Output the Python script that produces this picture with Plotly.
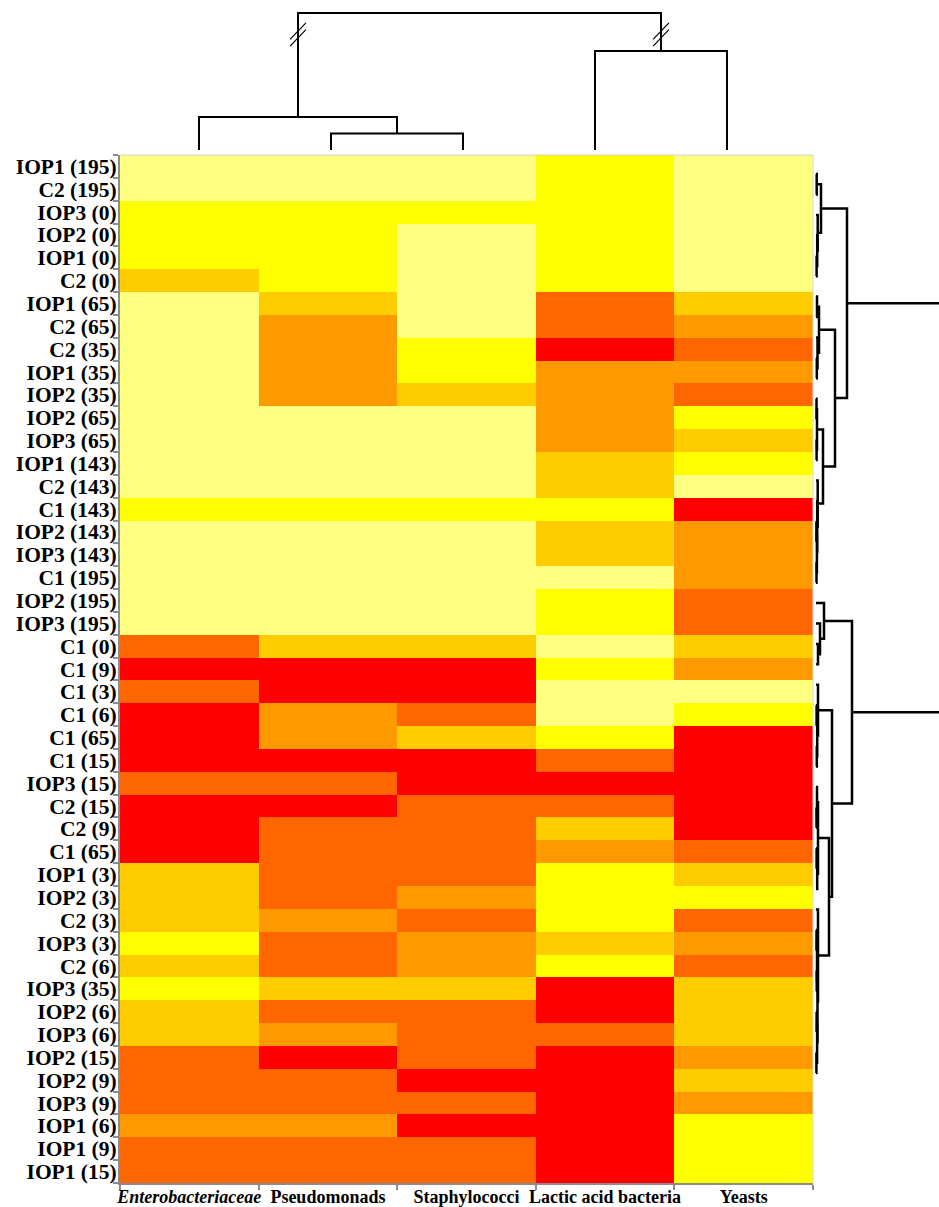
import plotly.graph_objects as go

W, H = 939, 1207

# Sample labels, top to bottom (clustered order)
row_labels = [
    "IOP1 (195)", "C2 (195)", "IOP3 (0)", "IOP2 (0)", "IOP1 (0)", "C2 (0)",
    "IOP1 (65)", "C2 (65)", "C2 (35)", "IOP1 (35)", "IOP2 (35)", "IOP2 (65)",
    "IOP3 (65)", "IOP1 (143)", "C2 (143)", "C1 (143)", "IOP2 (143)", "IOP3 (143)",
    "C1 (195)", "IOP2 (195)", "IOP3 (195)", "C1 (0)", "C1 (9)", "C1 (3)",
    "C1 (6)", "C1 (65)", "C1 (15)", "IOP3 (15)", "C2 (15)", "C2 (9)",
    "C1 (65)", "IOP1 (3)", "IOP2 (3)", "C2 (3)", "IOP3 (3)", "C2 (6)",
    "IOP3 (35)", "IOP2 (6)", "IOP3 (6)", "IOP2 (15)", "IOP2 (9)", "IOP3 (9)",
    "IOP1 (6)", "IOP1 (9)", "IOP1 (15)",
]

# Microbial groups (columns, clustered order)
group_labels = ["<i>Enterobacteriaceae</i>", "Pseudomonads", "Staphylococci",
                "Lactic acid bacteria", "Yeasts"]

# Count class per sample (0 = lowest ... 5 = highest)
enterobacteriaceae = [0, 0, 1, 1, 1, 2, 0, 0, 0, 0, 0, 0, 0, 0, 0, 1, 0, 0, 0, 0, 0,
                      4, 5, 4, 5, 5, 5, 4, 5, 5, 5, 2, 2, 2, 1, 2, 1, 2, 2, 4, 4, 4, 3, 4, 4]
pseudomonads = [0, 0, 1, 1, 1, 1, 2, 3, 3, 3, 3, 0, 0, 0, 0, 1, 0, 0, 0, 0, 0,
                2, 5, 5, 3, 3, 5, 4, 5, 4, 4, 4, 4, 3, 4, 4, 2, 4, 3, 5, 4, 4, 3, 4, 4]
staphylococci = [0, 0, 1, 0, 0, 0, 0, 0, 1, 1, 2, 0, 0, 0, 0, 1, 0, 0, 0, 0, 0,
                 2, 5, 5, 4, 2, 5, 5, 4, 4, 4, 4, 3, 4, 3, 3, 2, 4, 4, 4, 5, 4, 5, 4, 4]
lactic_acid_bacteria = [1, 1, 1, 1, 1, 1, 4, 4, 5, 3, 3, 3, 3, 2, 2, 1, 2, 2, 0, 1, 1,
                        0, 1, 0, 0, 1, 4, 5, 4, 2, 3, 1, 1, 1, 2, 1, 5, 5, 4, 5, 5, 5, 5, 5, 5]
yeasts = [0, 0, 0, 0, 0, 0, 2, 3, 4, 3, 4, 1, 2, 1, 0, 5, 3, 3, 3, 4, 4,
          2, 3, 0, 1, 5, 5, 5, 5, 5, 4, 2, 1, 4, 3, 4, 2, 2, 2, 3, 2, 3, 1, 1, 1]

class_colors = ["#FFFF80", "#FFFF00", "#FFCC00", "#FF9900", "#FF6600", "#FF0000"]


def merge(h, a, b):
    return (h, a, b)


# Column dendrogram (leaves are column numbers)
col_tree = merge(8.3, merge(2.0, 1, merge(1.0, 2, 3)), merge(6.0, 4, 5))

# Row dendrogram (leaves are row numbers), heights in pixel-like units
row_tree_top = merge(
    31,
    merge(5, merge(0.7, 1, 2), merge(1.7, 3, merge(1.2, 4, merge(0.6, 5, 6)))),
    merge(
        19,
        merge(3, merge(1, 7, 8), merge(1.5, 9, merge(0.8, 10, 11))),
        merge(
            7,
            merge(1, merge(0.5, 12, 13), merge(0.6, 14, 15)),
            merge(1.7, 16, merge(1.2, 17, merge(0.9, merge(0.4, 18, 19), merge(0.5, 20, 21)))),
        ),
    ),
)
row_tree_bottom = merge(
    36,
    merge(8, 22, merge(4, 23, merge(2, 24, 25))),
    merge(
        16,
        merge(2, 26, merge(1.2, merge(0.6, 27, 28), merge(0.8, 29, 30))),
        merge(
            13,
            merge(2, merge(1, 31, merge(0.5, 32, 33)), merge(1.2, merge(0.6, 34, 35), 36)),
            merge(2, 37, merge(1.5, merge(1, merge(0.5, 38, 39), merge(0.7, 40, 41)),
                               merge(1.1, merge(0.6, 42, 43), merge(0.4, 44, 45)))),
        ),
    ),
)
row_tree = merge(140, row_tree_top, row_tree_bottom)


def tree_segments(node, segs):
    """Return (position, height) of node and collect its U-shaped link."""
    if isinstance(node, int):
        return float(node), 0.0
    h, a, b = node
    pa, ha = tree_segments(a, segs)
    pb, hb = tree_segments(b, segs)
    segs.append([(pa, ha), (pa, h), (pb, h), (pb, hb)])
    return (pa + pb) / 2.0, h


def to_xy(segs, swap=False):
    xs, ys = [], []
    for seg in segs:
        for p, h in seg:
            if swap:
                xs.append(h)
                ys.append(p)
            else:
                xs.append(p)
                ys.append(h)
        xs.append(None)
        ys.append(None)
    return xs, ys


fig = go.Figure()

# Heatmap
z = [list(r) for r in zip(enterobacteriaceae, pseudomonads, staphylococci,
                          lactic_acid_bacteria, yeasts)]
n_cls = len(class_colors)
cscale = []
for i, c in enumerate(class_colors):
    cscale.append([i / n_cls, c])
    cscale.append([(i + 1) / n_cls, c])

rows_idx = list(range(1, len(row_labels) + 1))
cols_idx = list(range(1, len(group_labels) + 1))

fig.add_trace(go.Heatmap(
    z=z, x=cols_idx, y=rows_idx, colorscale=cscale,
    zmin=-0.5, zmax=n_cls - 0.5, showscale=False, xgap=0, ygap=0,
    hoverinfo="skip",
    xaxis="x", yaxis="y",
))

# Column dendrogram
segs = []
tree_segments(col_tree, segs)
cx, cy = to_xy(segs)
fig.add_trace(go.Scatter(x=cx, y=cy, mode="lines", line=dict(color="black", width=2),
                         xaxis="x2", yaxis="y2", hoverinfo="skip", showlegend=False))

# Axis-break marks on the two top branches
root_h, left_child, right_child = col_tree
lp, _ = tree_segments(left_child, [])
rp, _ = tree_segments(right_child, [])
bx, by = [], []
for p in (lp, rp):
    for off in (-0.2, 0.2):
        yc = 7.0 + off
        bx += [p - 0.06, p + 0.06, None]
        by += [yc - 0.5, yc + 0.5, None]
fig.add_trace(go.Scatter(x=bx, y=by, mode="lines", line=dict(color="black", width=1.2),
                         xaxis="x2", yaxis="y2", hoverinfo="skip", showlegend=False))

# Row dendrogram
segs = []
tree_segments(row_tree, segs)
rx, ry = to_xy(segs, swap=True)
fig.add_trace(go.Scatter(x=rx, y=ry, mode="lines", line=dict(color="black", width=2.5),
                         xaxis="x3", yaxis="y3", hoverinfo="skip", showlegend=False))


def px_x(p):
    return p / W


def px_y(p):
    return 1 - p / H


font_lbl = dict(family="Liberation Serif", size=21.5, color="black", weight="bold")
font_grp = dict(family="Liberation Serif", size=18, color="black", weight="bold")
axis_grey = "#8c8c8c"

fig.update_layout(
    width=W, height=H,
    margin=dict(l=0, r=0, t=0, b=0, autoexpand=False),
    paper_bgcolor="white", plot_bgcolor="white",
    showlegend=False,
    xaxis=dict(
        domain=[px_x(120), px_x(813)], range=[0.5, len(group_labels) + 0.5],
        tickmode="array", tickvals=cols_idx, ticktext=group_labels,
        ticks="", ticklabelstandoff=-4,
        minor=dict(tickmode="array", tickvals=[c + 0.5 for c in range(0, len(group_labels) + 1)],
                   ticks="outside", ticklen=5, tickcolor=axis_grey, tickwidth=1.5),
        showline=True, linecolor=axis_grey, linewidth=2, automargin=False,
        showgrid=False, zeroline=False, tickfont=font_grp, anchor="y",
    ),
    yaxis=dict(
        domain=[px_y(1183), px_y(155)], range=[len(row_labels) + 0.5, 0.5],
        tickmode="array", tickvals=rows_idx, ticktext=row_labels,
        ticks="", ticklabelstandoff=-3,
        minor=dict(tickmode="array", tickvals=[r + 0.5 for r in range(0, len(row_labels) + 1)],
                   ticks="outside", ticklen=5, tickcolor=axis_grey, tickwidth=1.5),
        showline=True, linecolor=axis_grey, linewidth=2, automargin=False,
        showgrid=False, zeroline=False, tickfont=font_lbl, anchor="x",
    ),
    xaxis2=dict(domain=[px_x(185.8), px_x(740.2)], range=[0.9, 5.1], visible=False,
                anchor="y2", automargin=False),
    yaxis2=dict(domain=[px_y(150), px_y(9.75)], range=[0, 8.5], visible=False,
                anchor="x2", automargin=False),
    xaxis3=dict(domain=[px_x(815), 1.0], range=[-1, 123], visible=False,
                anchor="y3", automargin=False),
    yaxis3=dict(domain=[px_y(1083.2), px_y(163.8)], range=[45.5, 0.5], visible=False,
                anchor="x3", automargin=False),
    shapes=[
        dict(type="line", xref="x domain", yref="y domain", x0=0, x1=1, y0=1, y1=1,
             line=dict(color="#d0d0d0", width=1)),
        dict(type="line", xref="x domain", yref="y domain", x0=1, x1=1, y0=0, y1=1,
             line=dict(color="#d8d8d8", width=1)),
    ],
)

fig.write_html("out.html")
